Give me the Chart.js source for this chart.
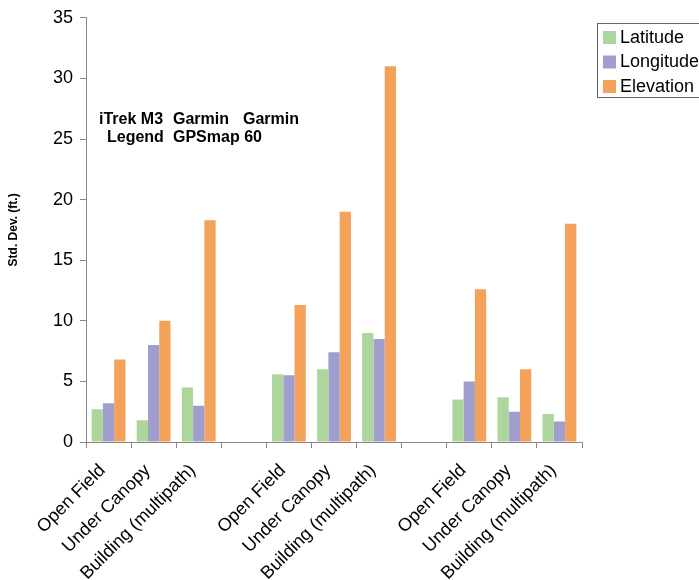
<!DOCTYPE html>
<html>
<head>
<meta charset="utf-8">
<script src="https://cdn.jsdelivr.net/npm/chart.js@4/dist/chart.umd.min.js"></script>
<style>
  html, body { margin: 0; padding: 0; background: #fff; }
  #wrap { width: 699px; height: 580px; }
</style>
</head>
<body>
<div id="wrap"><canvas id="chart"></canvas></div>
<script>
// Categories (empty slots separate the three receivers)
const categories = [
    'Open Field', 'Under Canopy', 'Building (multipath)', '',
    'Open Field', 'Under Canopy', 'Building (multipath)', '',
    'Open Field', 'Under Canopy', 'Building (multipath)'
];

// Series values (std. dev., ft.)
const latitude  = [2.7, 1.8, 4.5, null, 5.6, 6.0, 9.0, null, 3.5, 3.7, 2.3];
const longitude = [3.2, 8.0, 3.0, null, 5.5, 7.4, 8.5, null, 5.0, 2.5, 1.7];
const elevation = [6.8, 10.0, 18.3, null, 11.3, 19.0, 31.0, null, 12.6, 6.0, 18.0];

const yTicks = [0, 5, 10, 15, 20, 25, 30, 35];
const deviceNames = [
    ['iTrek M3', 'Legend'],
    ['Garmin', 'GPSmap 60'],
    ['Garmin', '']
];

const FONT = '"Liberation Sans", Arial, sans-serif';

// Legend box drawn at the top right, partly cut off like the original
const boxLegend = {
    id: 'boxLegend',
    afterDraw(chart) {
        const ctx = chart.ctx;
        const x = 597, y = 23, w = 110, h = 74;
        ctx.save();
        ctx.fillStyle = '#fff';
        ctx.fillRect(x, y, w, h);
        ctx.strokeStyle = '#666';
        ctx.lineWidth = 1;
        ctx.strokeRect(x + 0.5, y + 0.5, w, h);
        ctx.font = '18px ' + FONT;
        ctx.textBaseline = 'middle';
        chart.data.datasets.forEach((ds, i) => {
            const cy = y + 14 + i * 24.5;
            ctx.fillStyle = ds.backgroundColor;
            ctx.fillRect(x + 6, cy - 6, 13, 13);
            ctx.fillStyle = '#000';
            ctx.fillText(ds.label, x + 23, cy + 1);
        });
        ctx.restore();
    }
};

// Receiver names written over the plot
const deviceText = {
    id: 'deviceText',
    afterDraw(chart) {
        const ctx = chart.ctx;
        const colX = [[99, 107], [173, 173], [243, 243]];
        ctx.save();
        ctx.font = 'bold 16px ' + FONT;
        ctx.fillStyle = '#000';
        ctx.textBaseline = 'middle';
        deviceNames.forEach((lines, c) => {
            lines.forEach((line, r) => {
                ctx.fillText(line, colX[c][r], 120 + r * 18);
            });
        });
        ctx.restore();
    }
};

new Chart(document.getElementById('chart'), {
    type: 'bar',
    data: {
        labels: categories,
        datasets: [
            { label: 'Latitude', data: latitude, backgroundColor: '#acd69b' },
            { label: 'Longitude', data: longitude, backgroundColor: '#a09ecd' },
            { label: 'Elevation', data: elevation, backgroundColor: '#f4a15a' }
        ]
    },
    options: {
        responsive: true,
        maintainAspectRatio: false,
        animation: false,
        layout: { padding: { top: 14, right: 117, bottom: 0, left: 0 } },
        datasets: {
            bar: { categoryPercentage: 0.75, barPercentage: 1.0 }
        },
        plugins: {
            legend: { display: false },
            tooltip: { enabled: false }
        },
        scales: {
            x: {
                offset: true,
                grid: {
                    offset: true,
                    drawOnChartArea: false,
                    drawTicks: true,
                    tickLength: 6,
                    color: '#888'
                },
                border: { color: '#888', width: 1 },
                ticks: {
                    autoSkip: false,
                    minRotation: 45,
                    maxRotation: 45,
                    labelOffset: -6,
                    color: '#000',
                    padding: 12,
                    font: { family: FONT, size: 18 }
                },
                afterFit(scale) { scale.height = 138; }
            },
            y: {
                min: 0,
                max: 35,
                afterBuildTicks(scale) {
                    scale.ticks = yTicks.map(v => ({ value: v }));
                },
                grid: {
                    drawOnChartArea: false,
                    drawTicks: true,
                    tickLength: 6,
                    color: '#888'
                },
                border: { color: '#888', width: 1 },
                ticks: {
                    color: '#000',
                    padding: 7,
                    font: { family: FONT, size: 18 }
                },
                title: {
                    display: true,
                    text: 'Std. Dev. (ft.)',
                    color: '#000',
                    padding: { top: 6, bottom: 0 },
                    font: { family: FONT, size: 12, weight: 'bold' }
                },
                afterFit(scale) { scale.width = 86; }
            }
        }
    },
    plugins: [boxLegend, deviceText]
});
</script>
</body>
</html>
